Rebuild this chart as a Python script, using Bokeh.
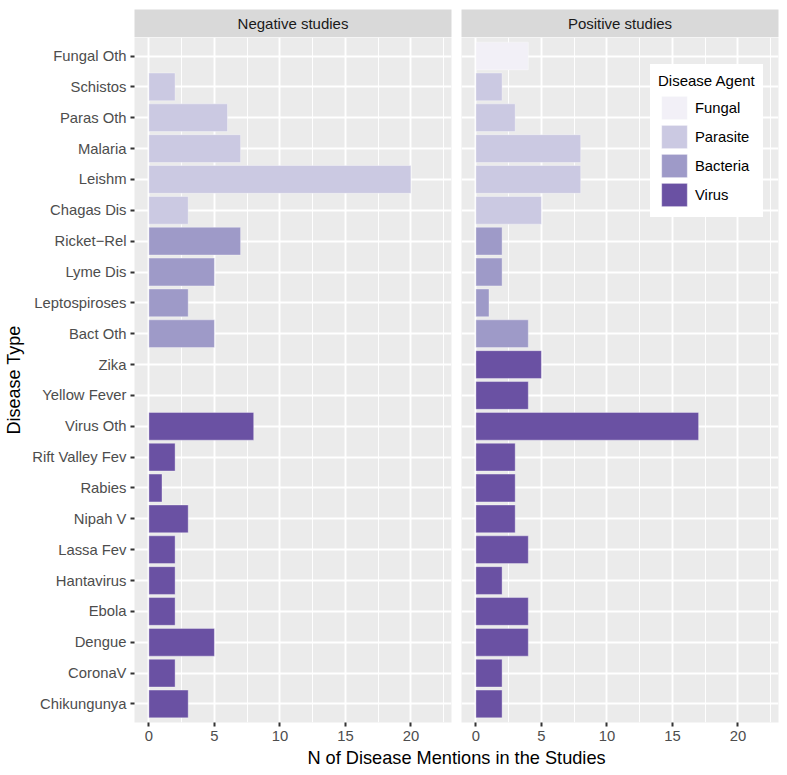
from bokeh.plotting import figure
from bokeh.models import (Range1d, FactorRange, FixedTicker, Legend, LegendItem,
                          Label, ColumnDataSource)
from bokeh.layouts import column, row
from bokeh.embed import file_html
from bokeh.resources import INLINE

# ---------------- data ----------------
diseases = ["Fungal Oth", "Schistos", "Paras Oth", "Malaria", "Leishm", "Chagas Dis",
            "Ricket\u2212Rel", "Lyme Dis", "Leptospiroses", "Bact Oth",
            "Zika", "Yellow Fever", "Virus Oth", "Rift Valley Fev", "Rabies", "Nipah V",
            "Lassa Fev", "Hantavirus", "Ebola", "Dengue", "CoronaV", "Chikungunya"]
agents = (["Fungal"] + ["Parasite"] * 5 + ["Bacteria"] * 4 + ["Virus"] * 12)
negative = [0, 2, 6, 7, 20, 3, 7, 5, 3, 5, 0, 0, 8, 2, 1, 3, 2, 2, 2, 5, 2, 3]
positive = [4, 2, 3, 8, 8, 5, 2, 2, 1, 4, 5, 4, 17, 3, 3, 3, 4, 2, 4, 4, 2, 2]
agent_levels = ["Fungal", "Parasite", "Bacteria", "Virus"]
agent_colors = ["#f2f0f7", "#cbc9e2", "#9e9ac8", "#6a51a3"]
panel_titles = ["Negative studies", "Positive studies"]
x_ticks = [0, 5, 10, 15, 20]
x_minor = [2.5, 7.5, 12.5, 17.5, 22.5]

FONT = "Liberation Sans"
TICK_FS = "14.8px"
FRAME_W = 317
FRAME_H = 685
BOTTOM = 26

y_range = FactorRange(factors=diseases[::-1], range_padding=0.1,
                      range_padding_units="absolute")


def make_strip(text, left, right):
    s = figure(title=None, frame_width=FRAME_W, frame_height=28,
               x_range=Range1d(0, 1), y_range=Range1d(0, 1),
               x_axis_type=None, y_axis_type=None, output_backend="svg",
               toolbar_location=None, min_border_left=left, min_border_right=right,
               min_border_top=9, min_border_bottom=0,
               background_fill_color="#d9d9d9", border_fill_color="white",
               outline_line_color=None)
    s.add_layout(Label(x=0.5, y=0.5, text=text, text_align="center",
                       text_baseline="middle", text_font=FONT,
                       text_font_size="15px", text_color="#1a1a1a"))
    return s


def make_panel(values, left, right, show_y):
    p = figure(title=None, frame_width=FRAME_W, frame_height=FRAME_H,
               x_range=Range1d(-1.1, 23.1),
               y_range=y_range, output_backend="svg", toolbar_location=None,
               min_border_left=left, min_border_right=right, min_border_top=0,
               min_border_bottom=BOTTOM, background_fill_color="#ebebeb",
               border_fill_color="white", outline_line_color=None)
    rends = {}
    for a, c in zip(agent_levels, agent_colors):
        ys = [d for d, ag, v in zip(diseases, agents, values) if ag == a and v > 0]
        vs = [v for d, ag, v in zip(diseases, agents, values) if ag == a and v > 0]
        src = ColumnDataSource(dict(disease=ys, value=vs))
        rends[a] = p.hbar(y="disease", left=0, right="value", height=0.9, source=src,
                          fill_color=c, line_color="white", line_alpha=0.45,
                          line_width=0.8)
    p.xaxis.ticker = FixedTicker(ticks=x_ticks, minor_ticks=x_minor)
    for ax in p.axis:
        ax.axis_line_color = None
        ax.major_tick_line_color = "#333333"
        ax.major_tick_line_width = 2
        ax.major_tick_out = 4
        ax.major_tick_in = 0
        ax.minor_tick_line_color = None
        ax.minor_tick_out = 0
        ax.minor_tick_in = 0
        ax.major_label_text_font = FONT
        ax.major_label_text_font_size = TICK_FS
        ax.major_label_text_color = "#4d4d4d"
        ax.major_label_standoff = 4
    p.xgrid.grid_line_color = "white"
    p.xgrid.grid_line_width = 1.9
    p.xgrid.minor_grid_line_color = "white"
    p.xgrid.minor_grid_line_width = 0.95
    p.ygrid.grid_line_color = "white"
    p.ygrid.grid_line_width = 1.9
    if show_y:
        p.yaxis.axis_label = "Disease Type"
        p.yaxis.axis_label_text_font = FONT
        p.yaxis.axis_label_text_font_size = "18px"
        p.yaxis.axis_label_text_font_style = "normal"
        p.yaxis.axis_label_text_color = "black"
        p.yaxis.axis_label_standoff = 5
    else:
        p.yaxis.visible = False
    return p, rends


LL, LR = 134, 5
RL, RR = 5, 9

s1 = make_strip(panel_titles[0], LL, LR)
s2 = make_strip(panel_titles[1], RL, RR)
p1, _ = make_panel(negative, LL, LR, True)
p2, r2 = make_panel(positive, RL, RR, False)

legend = Legend(items=[LegendItem(label=a, renderers=[r2[a]]) for a in agent_levels],
                location=(189, 505), title="Disease Agent",
                title_text_font=FONT, title_text_font_size="15px",
                title_text_font_style="normal", title_text_color="black",
                title_standoff=4,
                label_text_font=FONT, label_text_font_size=TICK_FS,
                label_text_color="black", label_standoff=5,
                glyph_width=32, glyph_height=29, label_height=29, spacing=0,
                padding=8, margin=0, border_line_color="white", border_line_alpha=0.0,
                background_fill_color="white", background_fill_alpha=1.0)
p2.add_layout(legend)

tw = LL + FRAME_W + LR + RL + FRAME_W + RR
t = figure(title=None, width=tw, height=20, x_range=Range1d(0, tw), y_range=Range1d(0, 20),
           x_axis_type=None, y_axis_type=None, output_backend="svg",
           toolbar_location=None, min_border=0, outline_line_color=None,
           background_fill_color="white", border_fill_color="white")
t.add_layout(Label(x=456, y=11, text="N of Disease Mentions in the Studies",
                   text_align="center", text_baseline="middle", text_font=FONT,
                   text_font_size="18.2px", text_color="black"))

layout = column(row(s1, s2), row(p1, p2), t)

open("out.html", "w").write(file_html(layout, INLINE))
